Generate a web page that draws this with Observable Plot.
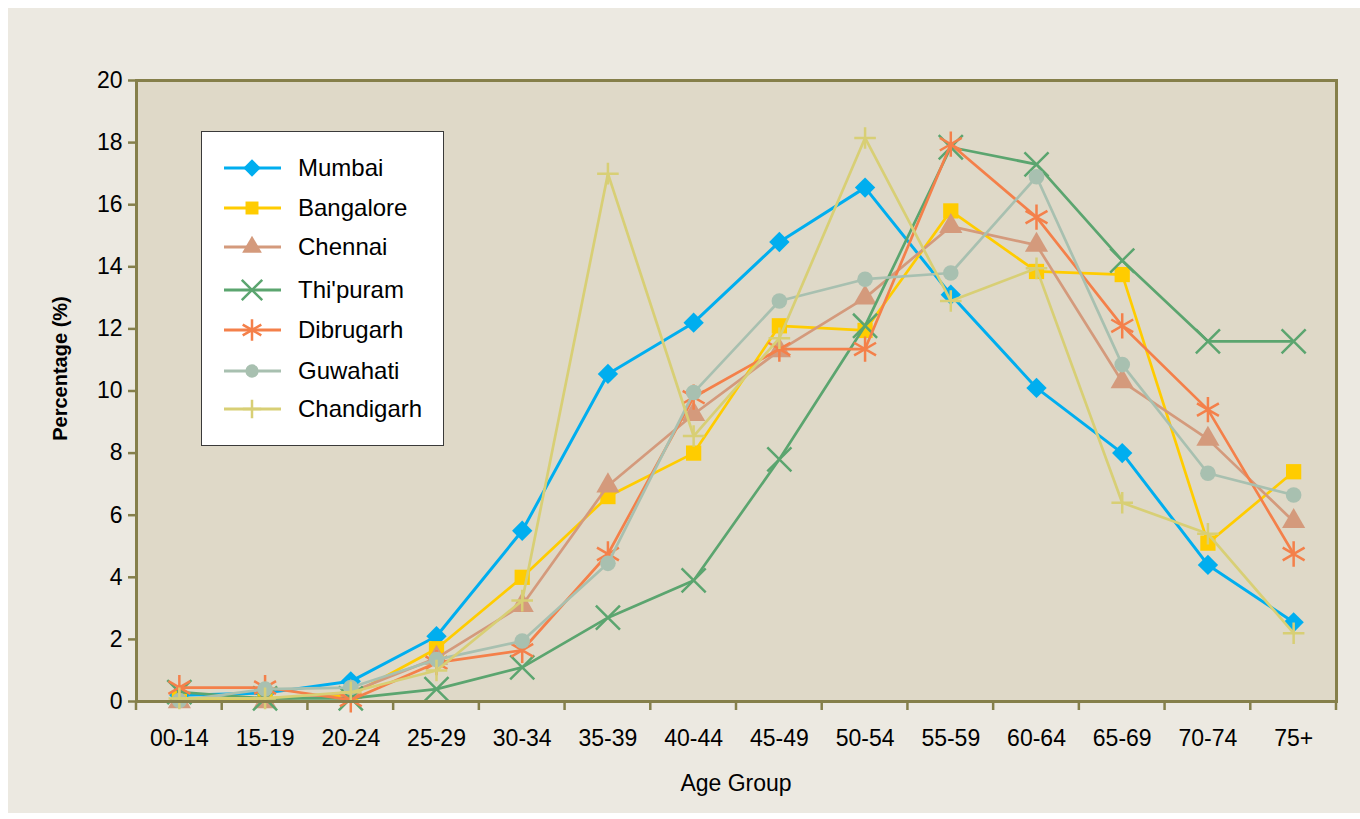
<!DOCTYPE html>
<html><head><meta charset="utf-8">
<script src="https://cdn.jsdelivr.net/npm/d3@7"></script>
<script src="https://cdn.jsdelivr.net/npm/@observablehq/plot@0.6"></script>
<style>
html,body{margin:0;padding:0;background:#fff;}
body{width:1360px;height:819px;position:relative;overflow:hidden;font-family:"Liberation Sans",Arial,Helvetica,sans-serif;}
#panel{position:absolute;left:8px;top:8px;right:0;bottom:6px;background:#ECE9E1;}
#chart{position:absolute;left:0;top:0;}
#legend{position:absolute;left:201px;top:131px;width:241px;height:313px;background:#fff;border:1.5px solid #3a3a3a;}
</style></head><body>
<div id="panel"></div><div id="chart"></div><div id="legend"></div>
<script>
const ageGroups = ["00-14","15-19","20-24","25-29","30-34","35-39","40-44","45-49","50-54","55-59","60-64","65-69","70-74","75+"];
const cities = ["Mumbai","Bangalore","Chennai","Thi'puram","Dibrugarh","Guwahati","Chandigarh"];
const mumbai     = [0.2, 0.27, 0.65, 2.1, 5.5, 10.55, 12.2, 14.8, 16.55, 13.1, 10.1, 8.0, 4.4, 2.55];
const bangalore  = [0.1, 0.1, 0.2, 1.7, 4.0, 6.6, 8.0, 12.1, 11.95, 15.8, 13.85, 13.75, 5.1, 7.4];
const chennai    = [0.0, 0.0, 0.3, 1.4, 3.1, 6.95, 9.25, 11.3, 13.0, 15.3, 14.7, 10.3, 8.45, 5.8];
const thipuram   = [0.3, 0.1, 0.1, 0.4, 1.1, 2.7, 3.9, 7.8, 12.1, 17.85, 17.3, 14.2, 11.6, 11.6];
const dibrugarh  = [0.45, 0.45, 0.05, 1.25, 1.65, 4.75, 9.8, 11.35, 11.35, 17.95, 15.6, 12.1, 9.4, 4.75];
const guwahati   = [0.03, 0.4, 0.45, 1.35, 1.95, 4.45, 9.95, 12.9, 13.6, 13.8, 16.9, 10.85, 7.35, 6.65];
const chandigarh = [0.1, 0.1, 0.3, 1.0, 3.25, 17.0, 8.55, 11.7, 18.15, 12.9, 13.95, 6.4, 5.4, 2.2];
const yTicks = [0,2,4,6,8,10,12,14,16,18,20];
const xTitle = "Age Group";
const yTitle = "Percentage (%)";

const seriesValues = [mumbai, bangalore, chennai, thipuram, dibrugarh, guwahati, chandigarh];

const olive = "#857F4A";
const diamond = {draw(ctx, size){ const h = Math.sqrt(size)*0.7; ctx.moveTo(0,-h); ctx.lineTo(h,0); ctx.lineTo(0,h); ctx.lineTo(-h,0); ctx.closePath(); }};
const styles = {
  "Mumbai":     {color:"#00AEEF", symbol:diamond,    r:8.2, filled:true,  lw:3},
  "Bangalore":  {color:"#FFCC00", symbol:"square",   r:8.6, filled:true,  lw:2.7},
  "Chennai":    {color:"#D49A7C", symbol:"triangle", r:8.6, filled:true,  lw:2.7},
  "Thi'puram":  {color:"#5BA56F", symbol:"times",    r:11,  filled:false, lw:2.7},
  "Dibrugarh":  {color:"#F4804A", symbol:"asterisk", r:12,  filled:false, lw:2.7},
  "Guwahati":   {color:"#A8C0B0", symbol:"circle",   r:7.8, filled:true,  lw:2.7},
  "Chandigarh": {color:"#D8CF75", symbol:"plus",     r:7,   filled:false, lw:2.7}
};

const rows = [];
cities.forEach((c, i) => seriesValues[i].forEach((v, j) => rows.push({city:c, age:ageGroups[j], value:v})));

const seriesMarks = [];
cities.forEach(c => {
  const s = styles[c];
  const d = rows.filter(r => r.city === c);
  seriesMarks.push(Plot.line(d, {x:"age", y:"value", stroke:s.color, strokeWidth:s.lw}));
  seriesMarks.push(Plot.dot(d, {x:"age", y:"value", symbol:s.symbol, r:s.r,
    fill: s.filled ? s.color : "none", stroke: s.filled ? "none" : s.color, strokeWidth: s.filled ? 0 : 2.5}));
});

const font = "'Liberation Sans', Arial, Helvetica, sans-serif";
const plot = Plot.plot({
  width:1360, height:819,
  marginLeft:136, marginRight:24, marginTop:80, marginBottom:118,
  style:{background:"transparent", fontFamily:font, color:"black", overflow:"visible"},
  x:{type:"band", domain:ageGroups, padding:0, round:false},
  y:{domain:[0,20]},
  marks:[
    Plot.frame({fill:"#DFD9C8"}),
    Plot.axisY({ticks:yTicks, tickSize:8, tickPadding:6, stroke:olive, strokeWidth:2.5, fill:"black", fontSize:23, label:null}),
    Plot.axisX({tickSize:0, tickPadding:28, fill:"black", fontSize:23, label:null}),
    ...seriesMarks,
    Plot.frame({stroke:olive, strokeWidth:3})
  ]
});
document.getElementById("chart").appendChild(plot);

// x ticks at band boundaries and axis titles, placed with Plot's own scales
const xs = plot.scale("x");
const ys = plot.scale("y");
const yb = ys.apply(0);
const yMid = (ys.apply(0) + ys.apply(20)) / 2;
const bounds = ageGroups.map(a => xs.apply(a)).concat([xs.apply(ageGroups[ageGroups.length-1]) + xs.bandwidth]);
const svg = d3.select(plot);
const g = svg.append("g").attr("stroke", olive).attr("stroke-width", 2.5);
bounds.forEach(b => g.append("line").attr("x1", b).attr("x2", b).attr("y1", yb).attr("y2", yb + 9));
svg.append("text").attr("x", (xs.apply(ageGroups[0]) + bounds[bounds.length-1]) / 2).attr("y", yb + 82)
  .attr("dy", "0.35em").attr("text-anchor", "middle").attr("font-size", 23).attr("font-family", font).attr("fill", "black").text(xTitle);
svg.append("text").attr("transform", `translate(60,${yMid - 22}) rotate(-90)`)
  .attr("dy", "0.35em").attr("text-anchor", "middle").attr("font-size", 20).attr("font-weight", "bold").attr("font-family", font).attr("fill", "black").text(yTitle);

// legend
const lg = d3.select("#legend").append("svg").attr("width", 241).attr("height", 313).style("display","block");
const rowY = [36, 76, 115, 158, 198, 239, 277];
const symMap = {square:d3.symbolSquare, triangle:d3.symbolTriangle, times:d3.symbolTimes, asterisk:d3.symbolAsterisk, circle:d3.symbolCircle, plus:d3.symbolPlus};
cities.forEach((c, i) => {
  const s = styles[c];
  const gy = lg.append("g").attr("transform", `translate(0,${rowY[i]})`);
  gy.append("line").attr("x1", 22).attr("x2", 79).attr("y1", 0).attr("y2", 0).attr("stroke", s.color).attr("stroke-width", 3);
  const type = typeof s.symbol === "string" ? symMap[s.symbol] : s.symbol;
  const sc = 0.85;
  gy.append("path").attr("transform", "translate(50,0)")
    .attr("d", d3.symbol(type, Math.PI * s.r * s.r * sc * sc)())
    .attr("fill", s.filled ? s.color : "none").attr("stroke", s.filled ? "none" : s.color).attr("stroke-width", 2.5);
  gy.append("text").attr("x", 96).attr("y", 0).attr("dy", "0.35em").attr("font-size", 24).attr("font-family", font).attr("fill", "black").text(c);
});
</script>
</body></html>
